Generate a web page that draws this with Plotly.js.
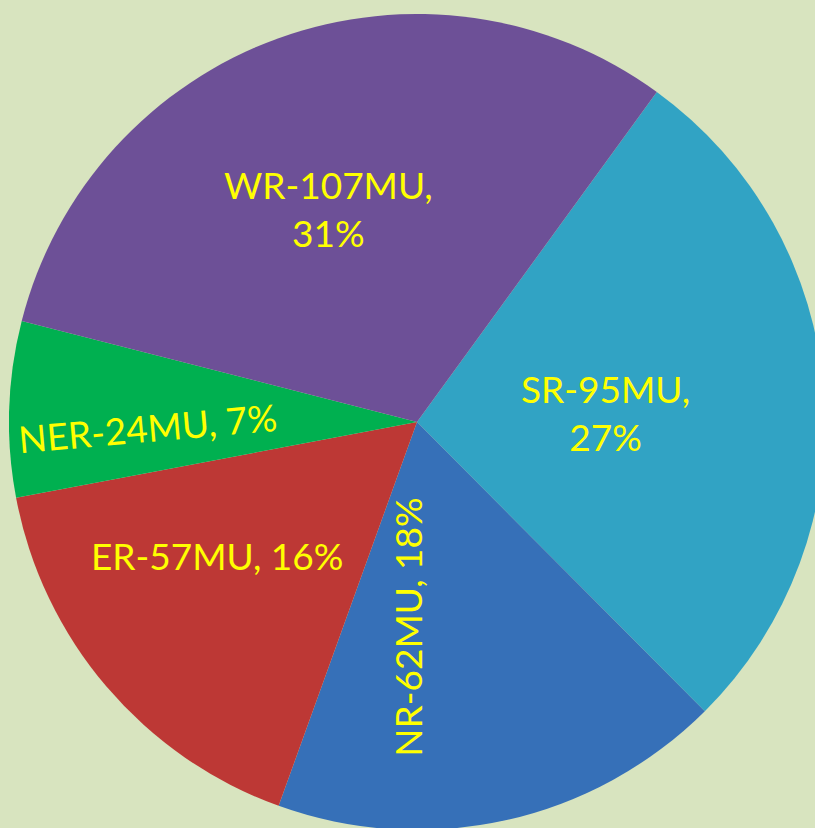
<!DOCTYPE html>
<html>
<head>
<meta charset="utf-8">
<script src="https://cdn.plot.ly/plotly-3.0.1.min.js"></script>
<style>
  html, body { margin: 0; padding: 0; width: 815px; height: 828px; overflow: hidden; background: #d8e4bf; }
  #chart { position: absolute; left: 9px; top: 14px; width: 816px; height: 816px; }
</style>
</head>
<body>
<div id="chart"></div>
<script>
const regions = ["SR", "NR", "ER", "NER", "WR"];
const energyMU = [95, 62, 57, 24, 107];
const percentLabels = ["27%", "18%", "16%", "7%", "31%"];
const sliceColors = ["#31a3c4", "#3670b8", "#bd3835", "#00b050", "#6d5097"];
const labelSeparators = [",<br>", ", ", ", ", ", ", ",<br>"];

const labelTexts = regions.map((r, i) => r + "-" + energyMU[i] + "MU" + labelSeparators[i] + percentLabels[i]);

// label placement (paper fractions) and text angle for each slice label
const labelPlacement = [
  { x: 0.731, y: 0.512, angle: 0 },
  { x: 0.489, y: 0.248, angle: -90 },
  { x: 0.255, y: 0.337, angle: 0 },
  { x: 0.170, y: 0.493, angle: -5 },
  { x: 0.391, y: 0.762, angle: 0 }
];

const trace = {
  type: "pie",
  labels: regions,
  values: energyMU,
  textinfo: "none",
  sort: false,
  direction: "clockwise",
  rotation: 36,
  marker: { colors: sliceColors, line: { width: 0 } },
  hoverinfo: "label+value+percent",
  domain: { x: [0, 1], y: [0, 1] }
};

const annotations = labelTexts.map((t, i) => ({
  xref: "paper", yref: "paper",
  x: labelPlacement[i].x, y: labelPlacement[i].y,
  xanchor: "center", yanchor: "middle",
  text: t,
  textangle: labelPlacement[i].angle,
  showarrow: false,
  align: "center",
  font: { family: "Lato, sans-serif", size: 37, color: "#ffff00" }
}));

Plotly.newPlot("chart", [trace], {
  width: 816, height: 816,
  margin: { l: 0, r: 0, t: 0, b: 0 },
  showlegend: false,
  annotations: annotations,
  paper_bgcolor: "rgba(0,0,0,0)",
  plot_bgcolor: "rgba(0,0,0,0)"
}, { displayModeBar: false, staticPlot: true });
</script>
</body>
</html>
